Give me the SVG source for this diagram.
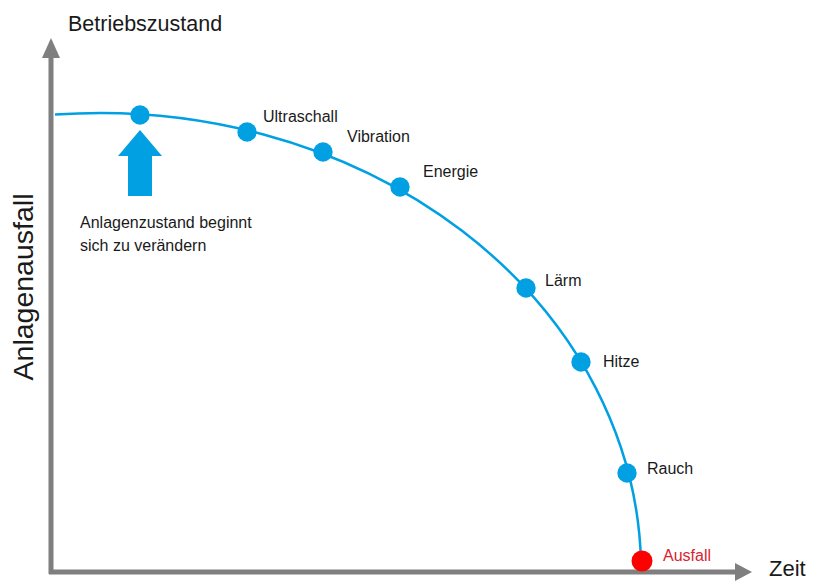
<svg xmlns="http://www.w3.org/2000/svg" width="813" height="581" viewBox="0 0 813 581">
<style>
.ax{stroke:#7f7f7f;stroke-width:5;fill:none}
.ah{fill:#7f7f7f}
.dot{fill:#00a0e3}
.lbl{font-family:"Liberation Sans",Arial,sans-serif;font-size:16px;fill:#1a1a1a}
.note{font-family:"Liberation Sans",Arial,sans-serif;font-size:16px;fill:#1a1a1a}
</style>
<rect width="813" height="581" fill="#fff"/>
<g id="axes">
<path class="ax" d="M51 574 V56"/>
<polygon class="ah" points="51,38 42,58 60,58"/>
<path class="ax" d="M49 572 H736"/>
<polygon class="ah" points="752,572 735,563 735,581"/>
<text x="68" y="31" font-family="Liberation Sans,Arial,sans-serif" font-size="21.5" fill="#1a1a1a">Betriebszustand</text>
<text x="769" y="576" font-family="Liberation Sans,Arial,sans-serif" font-size="22" fill="#1a1a1a">Zeit</text>
<text transform="translate(33,287) rotate(-90)" text-anchor="middle" font-family="Liberation Sans,Arial,sans-serif" font-size="28.5" fill="#1a1a1a">Anlagenausfall</text>
</g>
<g id="connectors">
<path d="M55 114.6 A541 459 0 0 1 641 562" fill="none" stroke="#00a0e3" stroke-width="2.5"/>
</g>
<g id="start">
<circle class="dot" cx="140" cy="115" r="9.7"/>
<polygon class="dot" points="140,130 118,156 128,156 128,196 152,196 152,156 162,156"/>
<text class="note" x="80" y="228">Anlagenzustand beginnt</text>
<text class="note" x="80" y="251">sich zu verändern</text>
</g>
<g id="ultraschall"><circle class="dot" cx="247" cy="132" r="9.7"/><text class="lbl" x="263" y="122">Ultraschall</text></g>
<g id="vibration"><circle class="dot" cx="323" cy="152" r="9.7"/><text class="lbl" x="347" y="142">Vibration</text></g>
<g id="energie"><circle class="dot" cx="400" cy="187" r="9.7"/><text class="lbl" x="423" y="177">Energie</text></g>
<g id="laerm"><circle class="dot" cx="526" cy="288" r="9.7"/><text class="lbl" x="545" y="286">Lärm</text></g>
<g id="hitze"><circle class="dot" cx="581" cy="362" r="9.7"/><text class="lbl" x="603" y="367">Hitze</text></g>
<g id="rauch"><circle class="dot" cx="627" cy="473" r="9.7"/><text class="lbl" x="647" y="474">Rauch</text></g>
<g id="ausfall"><circle cx="642" cy="561" r="10.5" fill="#f00"/><text class="lbl" x="663" y="561" style="fill:#d9232e">Ausfall</text></g>
</svg>
